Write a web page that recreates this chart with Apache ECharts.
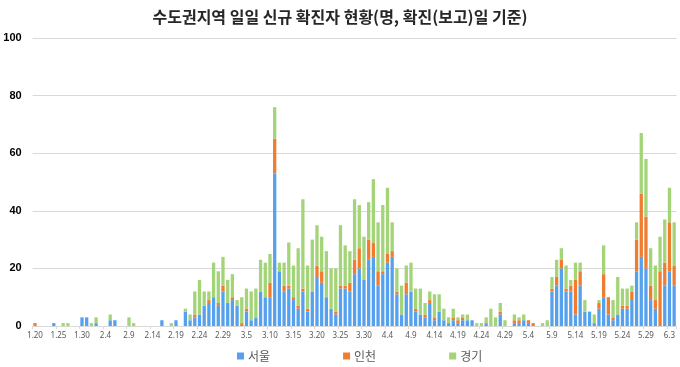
<!DOCTYPE html>
<html>
<head>
<meta charset="utf-8">
<script src="https://cdn.jsdelivr.net/npm/echarts@6/dist/echarts.min.js"></script>
<style>
html,body{margin:0;padding:0;background:#fff;}
#chart{width:680px;height:367px;}
</style>
</head>
<body>
<div id="chart"></div>
<script>
var titleText = '수도권지역 일일 신규 확진자 현황(명, 확진(보고)일 기준)';
var seriesNames = ['서울', '인천', '경기'];
var categories = [
'1.20','1.21','1.22','1.23','1.24','1.25','1.26','1.27','1.28','1.29','1.30','1.31',
'2.1','2.2','2.3','2.4','2.5','2.6','2.7','2.8','2.9','2.10','2.11','2.12','2.13','2.14','2.15','2.16','2.17','2.18','2.19','2.20','2.21','2.22','2.23','2.24','2.25','2.26','2.27','2.28','2.29',
'3.1','3.2','3.3','3.4','3.5','3.6','3.7','3.8','3.9','3.10','3.11','3.12','3.13','3.14','3.15','3.16','3.17','3.18','3.19','3.20','3.21','3.22','3.23','3.24','3.25','3.26','3.27','3.28','3.29','3.30','3.31',
'4.1','4.2','4.3','4.4','4.5','4.6','4.7','4.8','4.9','4.10','4.11','4.12','4.13','4.14','4.15','4.16','4.17','4.18','4.19','4.20','4.21','4.22','4.23','4.24','4.25','4.26','4.27','4.28','4.29','4.30',
'5.1','5.2','5.3','5.4','5.5','5.6','5.7','5.8','5.9','5.10','5.11','5.12','5.13','5.14','5.15','5.16','5.17','5.18','5.19','5.20','5.21','5.22','5.23','5.24','5.25','5.26','5.27','5.28','5.29','5.30','5.31',
'6.1','6.2','6.3','6.4'
];
var seoul = [
0,0,0,0,1,0,0,0,0,0,3,3,
0,1,0,0,2,2,0,0,0,0,0,0,0,0,0,2,0,0,2,0,5,2,3,4,7,8,10,7,12,
8,9,7,0,5,2,3,12,10,10,53,19,12,13,9,6,12,5,12,17,15,10,6,4,13,13,12,18,20,16,23,
24,14,18,22,24,11,4,11,12,5,4,3,8,2,5,2,1,2,1,2,2,2,0,0,1,0,0,4,0,0,
1,1,2,1,0,0,0,0,12,14,20,12,12,4,14,5,5,1,6,10,4,2,4,6,6,9,19,24,20,9,6,
0,14,19,14
];
var incheon = [
1,0,0,0,0,0,0,0,0,0,0,0,
0,0,0,0,0,0,0,0,0,0,0,0,0,0,0,0,0,0,0,0,0,0,1,0,0,1,0,1,2,
0,1,0,1,1,0,0,0,0,5,12,0,2,1,1,1,1,1,0,4,4,0,0,1,1,1,3,5,7,0,7,
5,5,1,3,2,1,0,4,0,1,0,1,1,1,0,0,0,1,1,1,0,0,0,0,0,0,0,1,0,0,
1,1,0,1,1,0,0,0,1,3,3,1,2,12,5,0,0,0,2,8,6,1,0,1,1,3,11,22,18,5,3,
19,8,17,7
];
var gyeonggi = [
0,0,0,0,0,0,1,1,0,0,0,0,
1,2,0,0,2,0,0,0,3,1,0,0,0,0,0,0,0,1,0,0,1,2,8,12,5,3,12,11,10,
8,8,2,9,7,10,10,11,12,10,11,3,8,15,11,20,31,15,18,14,12,16,14,15,21,14,11,21,15,15,13,
22,17,23,23,10,8,10,6,10,7,9,4,3,8,6,4,2,3,1,1,2,0,1,1,2,6,3,3,2,0,
2,1,2,0,0,0,1,2,4,6,4,8,2,6,3,4,0,3,1,10,0,6,13,6,6,2,6,21,20,13,12,
12,15,12,15
];
var yTicks = [0, 20, 40, 60, 80, 100];
var colors = ['#55a1ee', '#f07d2f', '#a3d477'];

var chart = echarts.init(document.getElementById('chart'), null, {renderer: 'canvas'});
var dataSets = [seoul, incheon, gyeonggi];
chart.setOption({
  animation: false,
  title: {
    text: titleText,
    left: 'center',
    top: 4,
    textStyle: {fontFamily: 'Noto Sans CJK KR', fontSize: 16, fontWeight: 'bold', color: '#262626'}
  },
  legend: {
    data: seriesNames,
    left: 232,
    top: 345,
    itemWidth: 7,
    itemHeight: 7,
    itemGap: 73,
    icon: 'rect',
    textStyle: {fontFamily: 'Noto Sans CJK KR', fontSize: 12, color: '#595959', padding: [0, 0, 0, -1]}
  },
  grid: {left: 32.65, right: 3.5, top: 38, bottom: 41, containLabel: false},
  xAxis: {
    type: 'category',
    data: categories,
    boundaryGap: true,
    axisLine: {show: true, lineStyle: {color: '#d9d9d9', width: 1}},
    axisTick: {show: true, interval: 4, length: 3, lineStyle: {color: '#d9d9d9'}},
    axisLabel: {interval: 4, margin: 6, fontSize: 8, color: '#595959', fontFamily: 'Noto Sans'},
    splitLine: {show: false}
  },
  yAxis: {
    type: 'value',
    min: yTicks[0],
    max: yTicks[yTicks.length - 1],
    interval: yTicks[1] - yTicks[0],
    axisLine: {show: false},
    axisTick: {show: false},
    axisLabel: {margin: 11, fontSize: 11, fontWeight: 'bold', color: '#000', fontFamily: 'Liberation Sans'},
    splitLine: {show: true, lineStyle: {color: '#d9d9d9', width: 1}}
  },
  series: seriesNames.map(function (name, k) {
    return {
      name: name,
      type: 'bar',
      stack: 'total',
      data: dataSets[k],
      barCategoryGap: '30%',
      itemStyle: {color: colors[k]}
    };
  })
});
</script>
</body>
</html>
